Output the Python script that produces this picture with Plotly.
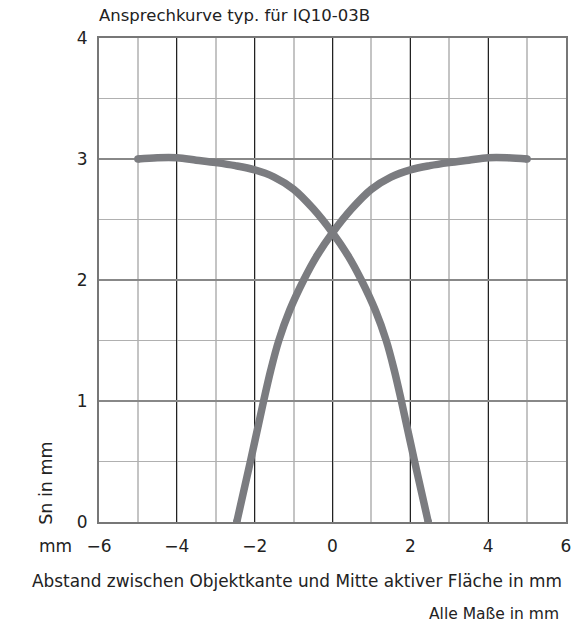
import plotly.graph_objects as go

# Curve rising toward the right
rise_x = [-2.46, -2.11, -1.77, -1.59, -1.38, -1.10, -0.74, -0.40, 0.0,
          0.5, 1.0, 1.5, 2.0, 2.5, 3.0, 3.5, 4.0, 4.5, 5.0]
rise_y = [0.0, 0.5, 1.0, 1.25, 1.5, 1.75, 2.0, 2.2, 2.39,
          2.59, 2.75, 2.85, 2.91, 2.945, 2.97, 2.99, 3.01, 3.01, 3.00]
# Curve falling toward the right (mirror image)
fall_x = [-5.0, -4.5, -4.0, -3.5, -3.0, -2.5, -2.0, -1.5, -1.0, -0.5, 0.0,
          0.40, 0.74, 1.10, 1.38, 1.59, 1.77, 2.11, 2.46]
fall_y = [3.00, 3.01, 3.01, 2.99, 2.97, 2.945, 2.91, 2.85, 2.75, 2.59, 2.39,
          2.2, 2.0, 1.75, 1.5, 1.25, 1.0, 0.5, 0.0]

x_ticks = [-6, -4, -2, 0, 2, 4, 6]
y_ticks = [0, 1, 2, 3, 4]

title_text = "Ansprechkurve typ. für IQ10-03B"
x_title = "Abstand zwischen Objektkante und Mitte aktiver Fläche in mm"
y_title = "Sn in mm"
unit_text = "mm"
note_text = "Alle Maße in mm"

FONT = "DejaVu Sans, Liberation Sans, sans-serif"
CURVE = "#7b7c80"
TXT = "#222"

fig = go.Figure()
for xs, ys in [(fall_x, fall_y), (rise_x, rise_y)]:
    fig.add_trace(go.Scatter(
        x=xs, y=ys, mode="lines",
        line=dict(color=CURVE, width=7.5, shape="spline", smoothing=1.0),
        hoverinfo="skip", showlegend=False))
    # round end caps
    fig.add_trace(go.Scatter(
        x=[xs[0], xs[-1]], y=[ys[0], ys[-1]], mode="markers",
        marker=dict(color=CURVE, size=7.5, line=dict(width=0)),
        hoverinfo="skip", showlegend=False))

fig.update_layout(
    width=574, height=626,
    margin=dict(l=99, r=8, t=38, b=104),
    paper_bgcolor="white", plot_bgcolor="white",
    font=dict(family=FONT, size=17, color=TXT),
    xaxis=dict(
        range=[-6, 6], tickvals=x_ticks, showgrid=True, gridcolor="#222", gridwidth=1,
        minor=dict(dtick=1, tick0=0, showgrid=True, gridcolor="#c4c4c4", gridwidth=1.5),
        showline=True, mirror=True, linecolor="#777", linewidth=2,
        zeroline=False, ticks="", tickfont=dict(size=17, color=TXT),
        ticklabelstandoff=8, automargin=False,
    ),
    yaxis=dict(
        range=[0, 4], tickvals=y_ticks, showgrid=True, gridcolor="#888", gridwidth=1.5,
        minor=dict(dtick=0.5, tick0=0, showgrid=True, gridcolor="#b0b0b0", gridwidth=1),
        showline=True, mirror=True, linecolor="#777", linewidth=2,
        zeroline=False, ticks="", tickfont=dict(size=17, color=TXT),
        ticklabelstandoff=6, automargin=False,
    ),
    annotations=[
        dict(text=title_text, xref="paper", yref="paper", x=-0.004, y=1.0465,
             xanchor="left", yanchor="middle", showarrow=False,
             font=dict(size=16.5, color=TXT)),
        dict(text=unit_text, xref="paper", yref="paper", x=-0.0936, y=-0.0486,
             xanchor="center", yanchor="middle", showarrow=False,
             font=dict(size=17, color=TXT)),
        dict(text=y_title, xref="paper", yref="paper", x=-0.115, y=0.0795,
             xanchor="center", yanchor="middle", textangle=-90, showarrow=False,
             font=dict(size=17.5, color=TXT)),
        dict(text=x_title, xref="paper", yref="paper", x=0.4246, y=-0.1209,
             xanchor="center", yanchor="middle", showarrow=False,
             font=dict(size=16.9, color=TXT)),
        dict(text=note_text, xref="paper", yref="paper", x=0.99, y=-0.191,
             xanchor="right", yanchor="middle", showarrow=False,
             font=dict(size=15.5, color=TXT)),
    ],
)

fig.write_html("out.html", config={"displayModeBar": False},
               post_script="document.body.style.margin='0';")
